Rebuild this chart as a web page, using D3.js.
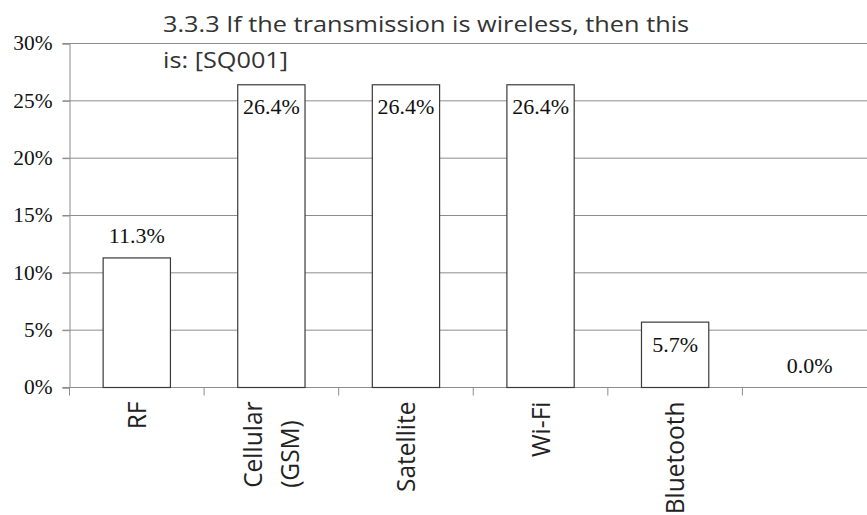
<!DOCTYPE html>
<html>
<head>
<meta charset="utf-8">
<script src="https://cdn.jsdelivr.net/npm/d3@7/dist/d3.min.js"></script>
<style>
html,body{margin:0;padding:0;background:#fff;}
svg{display:block;}
</style>
</head>
<body>
<svg id="chart" width="867" height="515"></svg>
<script>
const titleLines = ["3.3.3 If the transmission is wireless, then this", "is: [SQ001]"];
const categories = ["RF", "Cellular\n(GSM)", "Satellite", "Wi-Fi", "Bluetooth", ""];
const values = [11.3, 26.4, 26.4, 26.4, 5.7, 0.0];
const labelPlacement = ["outside", "inside", "inside", "inside", "inside", "outside"];
const yTicks = [0, 5, 10, 15, 20, 25, 30];

(function() {
const svg = d3.select("#chart");
const mLeft = 69.5, mRight = 877, mTop = 43.5, mBottom = 387.5;

const x = d3.scaleBand().domain(categories.map((c, i) => i)).range([mLeft, mRight]).paddingInner(0.5).paddingOuter(0.25);
const y = d3.scaleLinear().domain([0, 30]).range([mBottom, mTop]);

const gridColor = "#8c8c8c";
const serif = "'Liberation Serif', 'Times New Roman', serif";
const sans = "'Open Sans', 'Noto Sans', sans-serif";

svg.append("g").selectAll("line").data(yTicks).join("line")
  .attr("x1", mLeft - 7).attr("x2", 867)
  .attr("y1", d => y(d)).attr("y2", d => y(d))
  .attr("stroke", gridColor).attr("stroke-width", 1);

const yAxis = svg.append("g").attr("transform", `translate(${mLeft},0)`)
  .call(d3.axisLeft(y).tickValues(yTicks).tickSize(7).tickFormat(d => d + "%"));
yAxis.select(".domain").attr("stroke", gridColor);
yAxis.selectAll(".tick line").attr("stroke", gridColor);
yAxis.selectAll(".tick text").remove();
yAxis.selectAll(".tick").append("g").attr("transform", "translate(-17,0) scale(1.07,1)")
  .append("text")
  .attr("text-anchor", "end").attr("dy", "0.32em")
  .attr("font-family", serif)
  .attr("font-size", 20).attr("fill", "#111")
  .text(d => d + "%");

const step = x.step();
const boundaries = d3.range(categories.length + 1).map(i => mLeft + i * step);
svg.append("g").selectAll("line").data(boundaries).join("line")
  .attr("x1", d => d).attr("x2", d => d)
  .attr("y1", mBottom).attr("y2", mBottom + 8)
  .attr("stroke", gridColor);
svg.append("line").attr("x1", mLeft).attr("x2", 867).attr("y1", mBottom).attr("y2", mBottom)
  .attr("stroke", gridColor);

svg.append("g").selectAll("rect").data(values).join("rect")
  .attr("x", (d, i) => x(i)).attr("width", x.bandwidth())
  .attr("y", d => y(d)).attr("height", d => mBottom - y(d))
  .attr("fill", "#fff").attr("stroke", "#3a3a3a").attr("stroke-width", 1.2)
  .attr("display", d => d > 0 ? null : "none");

svg.append("g").selectAll("g").data(values).join("g")
  .attr("transform", (d, i) => `translate(${x(i) + x.bandwidth() / 2},${labelPlacement[i] === "inside" ? y(d) + 29.5 : y(d) - 14.5}) scale(1.1,1)`)
  .append("text")
  .attr("text-anchor", "middle")
  .attr("font-family", serif)
  .attr("font-size", 20).attr("fill", "#111")
  .text(d => d.toFixed(1) + "%");

const xl = svg.append("g").selectAll("g").data(categories).join("g")
  .attr("transform", (d, i) => `translate(${x(i) + x.bandwidth() / 2},${mBottom + 14}) rotate(-90) scale(1,1.05)`);
xl.each(function(d) {
  const lines = d.split("\n");
  const n = lines.length;
  const lh = 1.45;
  const t = d3.select(this).append("text")
    .attr("text-anchor", "start")
    .attr("font-family", sans)
    .attr("font-size", 24.5).attr("fill", "#222");
  const spans = lines.map((ln, k) => t.append("tspan")
      .attr("dy", k === 0 ? (0.35 - (n - 1) * lh / 2) + "em" : lh + "em")
      .text(ln));
  const maxLen = d3.max(spans, s => s.node().getComputedTextLength()) || 0;
  spans.forEach(s => s.attr("x", -maxLen));
});

const tt = svg.append("g").attr("transform", "translate(163,0) scale(1.15,1)")
  .append("text")
  .attr("font-family", sans)
  .attr("font-size", 22).attr("fill", "#333");
titleLines.forEach((ln, k) => {
  tt.append("tspan").attr("x", 0).attr("y", 32.5 + k * 36).text(ln);
});
})();
</script>
</body>
</html>
